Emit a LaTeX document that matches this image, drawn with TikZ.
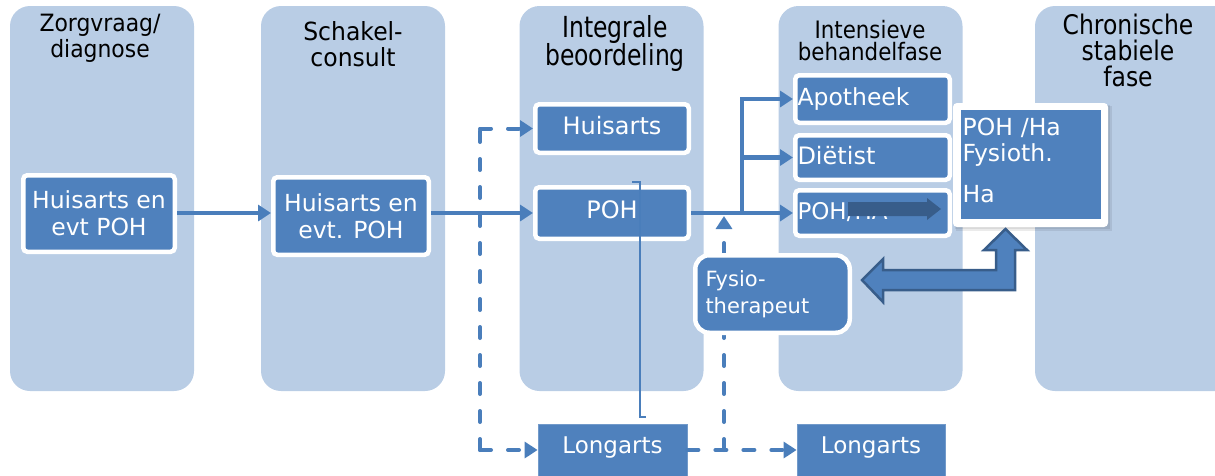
\documentclass[tikz,border=0pt]{standalone}
\usepackage{fontspec}
\setmainfont{DejaVu Sans}
\usetikzlibrary{arrows.meta}
\definecolor{lightb}{HTML}{B9CDE5}
\definecolor{darkb}{HTML}{4F81BD}
\definecolor{arrb}{HTML}{4A7EBB}
\definecolor{edgeb}{HTML}{385D8A}
\newcommand{\hdtext}[2]{\scalebox{#1}[1]{\begin{tabular}{@{}c@{}}#2\end{tabular}}}
\tikzset{
  col/.style={fill=lightb, rounded corners=20pt, inner sep=0pt},
  hdr/.style={align=center, text=black, inner sep=0pt},
  wbox/.style={fill=darkb, draw=white, line width=4.5pt, rounded corners=4pt, text=white,
     inner sep=0pt, font=\fontsize{23.5}{27}\selectfont, align=center},
  pbox/.style={fill=darkb, draw=darkb!80!white, line width=0.8pt, text=white,
     inner sep=0pt, font=\fontsize{23}{26}\selectfont},
  arr/.style={draw=arrb, line width=4.3pt, -{Triangle[length=13pt,width=16pt]}},
  arrline/.style={draw=arrb, line width=4.3pt},
  darr/.style={draw=arrb, line width=4pt, line cap=round, dash pattern=on 11pt off 17pt, -{Triangle[length=13pt,width=16pt]}},
  dline/.style={draw=arrb, line width=4pt, line cap=round, dash pattern=on 11pt off 17pt},
}
\begin{document}
\begin{tikzpicture}[x=1pt,y=-1pt]
\useasboundingbox (0,0) rectangle (1215,475);
\clip (0,0) rectangle (1215,475);
% columns
\node[col, minimum width=184pt, minimum height=385pt] (c1) at (102,198.5) {};
\node[col, minimum width=184pt, minimum height=385pt] (c2) at (353,198.5) {};
\node[col, minimum width=184pt, minimum height=385pt] (c3) at (611.5,198.5) {};
\node[col, minimum width=184pt, minimum height=385pt] (c4) at (870.5,198.5) {};
\node[col, minimum width=200pt, minimum height=385pt] (c5) at (1135,198.5) {};
% headers
\node[hdr, font=\fontsize{23.8}{26.5}\selectfont] (h1) at (100,39) {\hdtext{0.92}{Zorgvraag/\\diagnose}};
\node[hdr, font=\fontsize{25}{25.5}\selectfont] (h2) at (353,48) {\hdtext{0.94}{Schakel-\\consult}};
\node[hdr, font=\fontsize{29}{26.5}\selectfont] (h3) at (615,44) {\hdtext{0.81}{Integrale\\[-2pt]beoordeling}};
\node[hdr, font=\fontsize{24}{22.5}\selectfont] (h4) at (870,43.5) {\hdtext{0.89}{Intensieve\\[-3pt]behandelfase}};
\node[hdr, font=\fontsize{27}{26}\selectfont] (h5) at (1128,54) {\hdtext{0.87}{Chronische\\[-2.5pt]stabiele\\[-2.5pt]fase}};
% dashed vertical behind fysio
\coordinate (v1) at (724,450);
\coordinate (v2) at (724,216);
\draw[darr] (v1) -- (v2);
% boxes
\node[wbox, minimum width=151.5pt, minimum height=76.5pt] (n1) at (99,213.5) {Huisarts en\\evt POH};
\node[wbox, minimum width=155.5pt, minimum height=77.5pt] (n2) at (351,216) {Huisarts en\\evt. POH};
\node[wbox, minimum width=153.5pt, minimum height=48.5pt, font=\fontsize{24}{26}\selectfont] (hu3) at (612,128.5) {\raisebox{6pt}{Huisarts}};
\node[wbox, minimum width=153.5pt, minimum height=51.5pt, font=\fontsize{24}{26}\selectfont] (po3) at (612,213) {\raisebox{6pt}{POH}};
\node[pbox, minimum width=149pt, minimum height=54pt] (l3) at (612.5,451) {\raisebox{11pt}{Longarts}};
\node[pbox, minimum width=148pt, minimum height=54pt] (l4) at (871,451) {\raisebox{11pt}{Longarts}};
\node[wbox, minimum width=154.5pt, minimum height=47.5pt, align=left, text width=150pt, font=\fontsize{23.5}{26}\selectfont] (apo) at (872.5,99) {\raisebox{4pt}{Apotheek}};
\node[wbox, minimum width=154.5pt, minimum height=44.5pt, align=left, text width=150pt, font=\fontsize{24}{26}\selectfont] (die) at (872.5,157.5) {\raisebox{4pt}{Diëtist}};
\node[wbox, minimum width=154.5pt, minimum height=45.5pt, align=left, text width=150pt, font=\fontsize{23}{26}\selectfont] (pha) at (872.5,213) {\raisebox{4pt}{POH/HA}};
\node[wbox, rounded corners=14pt, minimum width=154.5pt, minimum height=77.5pt, align=left, text width=134pt, font=\fontsize{21}{27}\selectfont] (fys) at (772.5,294) {Fysio-\\therapeut};
% thin bracket (over POH)
\draw[arrb, line width=1.3pt] (632,182) -| (640,417) -- (646,417);
% shadowed white box
\fill[black, opacity=0.08] (956,106) rectangle (1112,231);
\fill[black, opacity=0.08] (955,105) rectangle (1110,229);
\node[draw=none, fill=white, rounded corners=4pt, minimum width=155pt, minimum height=124pt, inner sep=0pt] (pfw) at (1030.5,165) {};
\node[fill=darkb, minimum width=140pt, minimum height=109pt, inner sep=0pt, text=white, align=left, text width=137pt, font=\fontsize{23.5}{26}\selectfont, anchor=north west] (pf) at (961,110) {\\[-18pt]POH /Ha\\Fysioth.\\[15pt]Ha};
% dark arrow inside POH/HA
\fill[edgeb] (848,202) -- (927,202) -- (927,198) -- (941,209) -- (927,220) -- (927,216) -- (848,216) -- cycle;
% double block arrow
\filldraw[fill=darkb, draw=edgeb, line width=2.5pt, line join=miter]
  (862,280) -- (883,259) -- (883,270) -- (996,270) -- (996,250) -- (984,250) -- (1005.5,229)
  -- (1027,250) -- (1015,250) -- (1015,290) -- (883,290) -- (883,302) -- cycle;
% connectors
\draw[arr] (n1.east |- 0,213) -- (n2.west |- 0,213);
\draw[arr] (n2.east |- 0,213) -- (po3.west);
\coordinate (br) at (742,213);
\draw[arrline] (po3.east) -- (br);
\draw[arr] (br) |- (apo.west);
\draw[arr] (br) |- (die.west);
\draw[arr] (br) -- (pha.west);
\coordinate (d1) at (480,128.5);
\coordinate (d2) at (480,450);
\draw[dline] (d2) -- (d1);
\draw[darr] (d1) -- (hu3.west);
\draw[darr] (d2) -- (l3.west |- d2);
\draw[darr] (l3.east |- d2) -- (l4.west |- d2);
\end{tikzpicture}
\end{document}
